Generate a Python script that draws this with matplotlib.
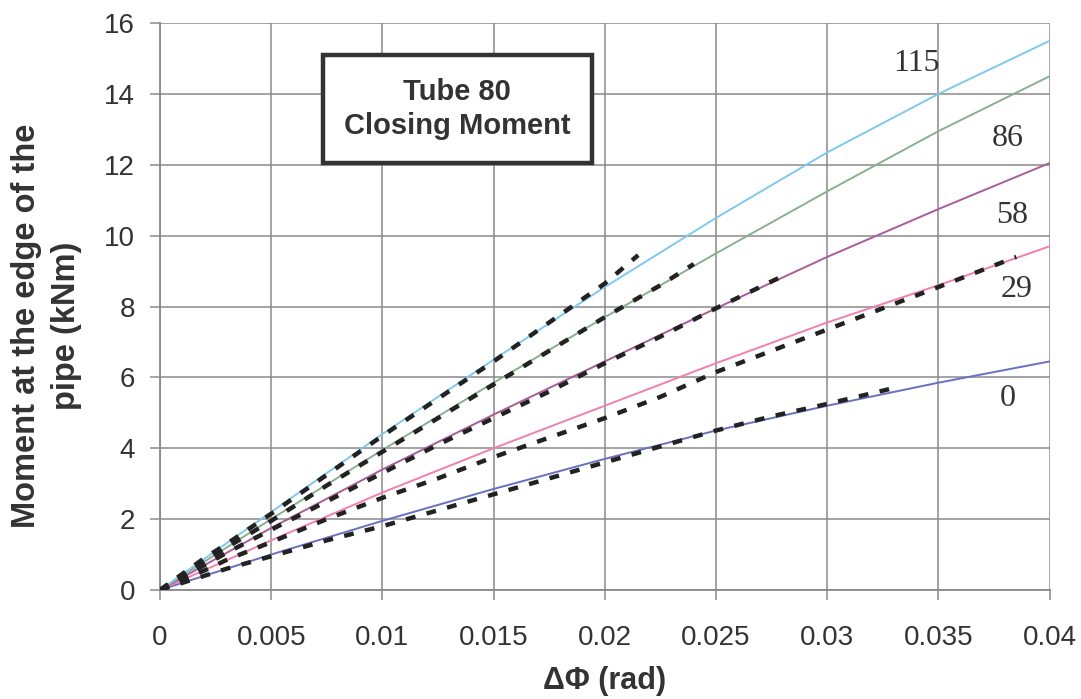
import matplotlib.pyplot as plt
from matplotlib.patches import Rectangle

# FE results (solid lines), one per internal pressure level
x_fe = [0, 0.005, 0.01, 0.015, 0.02, 0.025, 0.03, 0.035, 0.04]
fe_0 = [0, 1.0, 1.95, 2.85, 3.7, 4.5, 5.2, 5.85, 6.45]
fe_29 = [0, 1.4, 2.75, 4.0, 5.2, 6.4, 7.55, 8.6, 9.7]
fe_58 = [0, 1.75, 3.4, 4.95, 6.45, 7.95, 9.4, 10.75, 12.05]
fe_86 = [0, 2.0, 3.95, 5.85, 7.7, 9.5, 11.25, 12.95, 14.5]
fe_115 = [0, 2.2, 4.4, 6.5, 8.55, 10.5, 12.35, 14.0, 15.5]

# experimental results (dashed lines)
x_ex0 = [0, 0.001, 0.002, 0.003, 0.005, 0.0075, 0.01, 0.0125, 0.015, 0.0175, 0.02, 0.0225, 0.025, 0.0275, 0.03, 0.033]
ex_0 = [0, 0.2, 0.4, 0.6, 0.95, 1.4, 1.8, 2.25, 2.7, 3.15, 3.6, 4.05, 4.5, 4.9, 5.25, 5.7]
x_ex29 = [0, 0.001, 0.002, 0.003, 0.005, 0.0075, 0.01, 0.0125, 0.015, 0.0175, 0.02, 0.0225, 0.025, 0.0275, 0.03, 0.0325, 0.035, 0.0385]
ex_29 = [0, 0.3, 0.55, 0.85, 1.35, 2.0, 2.6, 3.15, 3.75, 4.3, 4.85, 5.45, 6.15, 6.75, 7.35, 7.95, 8.55, 9.4]
x_ex58 = [0, 0.001, 0.002, 0.003, 0.005, 0.0075, 0.01, 0.0125, 0.015, 0.0175, 0.02, 0.0225, 0.025, 0.0278]
ex_58 = [0, 0.35, 0.7, 1.05, 1.7, 2.5, 3.3, 4.1, 4.85, 5.6, 6.4, 7.15, 7.95, 8.8]
x_ex86 = [0, 0.001, 0.002, 0.003, 0.005, 0.0075, 0.01, 0.0125, 0.015, 0.0175, 0.02, 0.0225, 0.024]
ex_86 = [0, 0.4, 0.8, 1.2, 1.95, 2.95, 3.9, 4.85, 5.8, 6.75, 7.7, 8.6, 9.2]
x_ex115 = [0, 0.001, 0.002, 0.003, 0.005, 0.0075, 0.01, 0.0125, 0.015, 0.0175, 0.02, 0.0215]
ex_115 = [0, 0.45, 0.9, 1.3, 2.15, 3.25, 4.35, 5.4, 6.45, 7.55, 8.65, 9.45]

pressures = ['0', '29', '58', '86', '115']
label_x = [0.0381, 0.0385, 0.0383, 0.0381, 0.0340]
label_y = [5.4, 8.47, 10.58, 12.75, 14.87]
colors = ['#6a70c0', '#f080b0', '#a85c98', '#88b090', '#80c8f0']

plt.rcParams['font.family'] = ['Liberation Sans', 'DejaVu Sans']

fig = plt.figure(figsize=(10.81, 6.99), dpi=100)
ax = fig.add_axes([0.148, 0.156, 0.823, 0.811])

fe = [fe_0, fe_29, fe_58, fe_86, fe_115]
ex = [(x_ex0, ex_0), (x_ex29, ex_29), (x_ex58, ex_58), (x_ex86, ex_86), (x_ex115, ex_115)]
for ys, c in zip(fe, colors):
    ax.plot(x_fe, ys, color=c, lw=1.4, zorder=3)
for xs, ys in ex:
    ax.plot(xs, ys, color='#222222', lw=3.2, dashes=(2.2, 2.6), zorder=4)

for p, lx, ly in zip(pressures, label_x, label_y):
    ax.text(lx, ly, p, fontsize=23, family='Liberation Serif', color='#333333',
            ha='center', va='center', zorder=5)

# title box
ax.add_patch(Rectangle((0.00733, 12.05), 0.01209, 3.05, fc='white', ec='#333333',
                       lw=3.2, zorder=6))
ax.text(0.01337, 13.57, 'Tube 80\nClosing Moment', fontsize=21, fontweight='bold',
        color='#333333', ha='center', va='center', linespacing=1.25, zorder=7)

ax.set_xlim(0, 0.04)
ax.set_ylim(0, 16)
ax.set_xticks([0, 0.005, 0.01, 0.015, 0.02, 0.025, 0.03, 0.035, 0.04])
ax.set_xticklabels(['0', '0.005', '0.01', '0.015', '0.02', '0.025', '0.03', '0.035', '0.04'])
ax.set_yticks(range(0, 17, 2))
ax.grid(True, color='#8a8a8a', lw=1.1)
ax.set_axisbelow(True)
for s in ['top', 'right']:
    ax.spines[s].set_visible(False)
for s in ['left', 'bottom']:
    ax.spines[s].set_color('#8a8a8a')
    ax.spines[s].set_linewidth(1.3)
ax.tick_params(axis='both', labelsize=20, colors='#8a8a8a', labelcolor='#333333',
               length=7, width=1.1)
ax.tick_params(axis='x', pad=18)
ax.tick_params(axis='y', pad=11)

ax.set_xlabel('ΔΦ (rad)', fontsize=22, fontweight='bold', color='#333333', labelpad=11)
ax.set_ylabel('Moment at the edge of the\npipe (kNm)', fontsize=23.5, fontweight='bold',
              color='#333333', linespacing=1.35)
ax.yaxis.set_label_coords(-0.088, 0.466)

fig.savefig('out.png', dpi=100)
